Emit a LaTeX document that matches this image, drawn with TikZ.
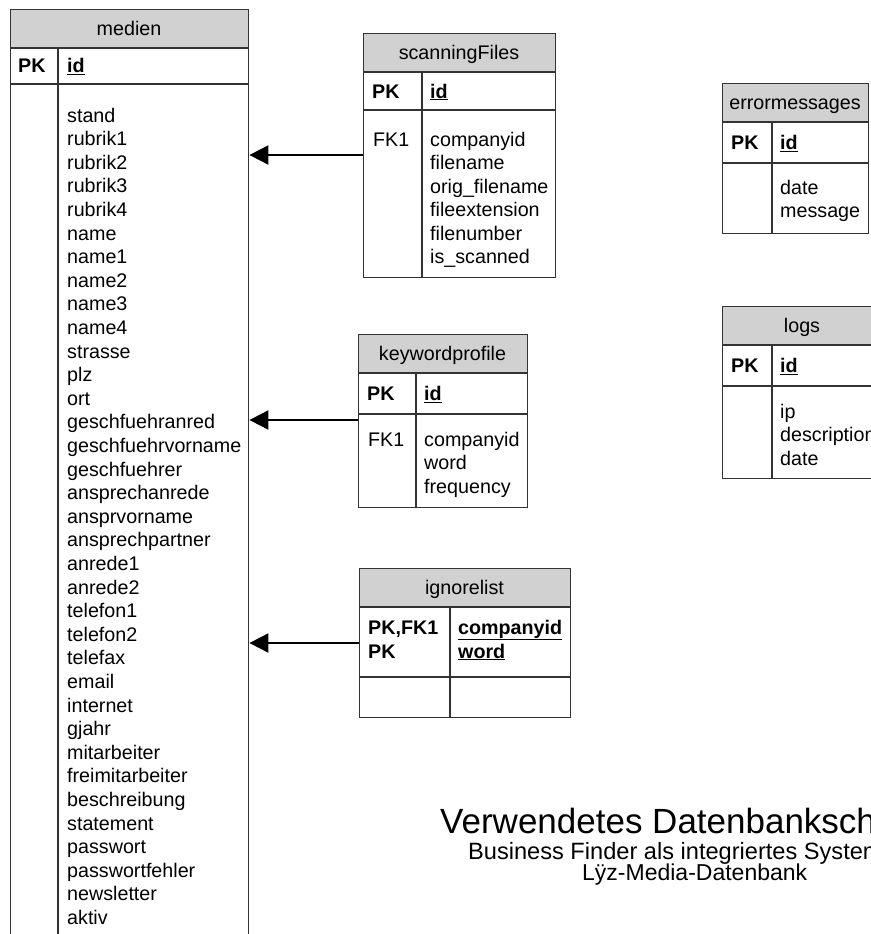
\documentclass[tikz,border=0pt]{standalone}
\usepackage{fontspec}
\setmainfont{Liberation Sans}
\usetikzlibrary{arrows.meta}
\newcommand{\keyname}[1]{\underline{#1}}
\begin{document}
\begin{tikzpicture}[x=1pt,y=-1pt,
  frame/.style={draw=black!80, line width=1.4pt},
  headfill/.style={fill=black!18},
  box/.style={frame, inner sep=0pt, anchor=north west},
  cell/.style={font=\fontsize{19.7}{23.5}\selectfont, anchor=base west, inner sep=0pt},
  headtext/.style={cell, anchor=base},
  keytext/.style={cell, font=\fontsize{19.7}{23.5}\selectfont\bfseries},
  fk/.style={draw=black, line width=2pt, -{Triangle[length=19pt,width=19pt]}},
]
\useasboundingbox (0,0) rectangle (870,934);

% ---------- medien ----------
\fill[headfill] (10,9) rectangle (248,48);
\node[box, minimum width=238pt, minimum height=1000pt] (medien) at (10,9) {};
\draw[frame] (10,48) -- (248,48) (10,84) -- (248,84) (58,48) -- (58,1009);
\node[headtext] (medienT) at (129,35.5) {medien};
\node[keytext] (medienPK) at (18,73) {PK};
\node[keytext] (medienId) at (67,73) {\keyname{id}};
\foreach \t [count=\i] in {stand,rubrik1,rubrik2,rubrik3,rubrik4,name,name1,name2,name3,name4,strasse,plz,ort,geschfuehranred,geschfuehrvorname,geschfuehrer,ansprechanrede,ansprvorname,ansprechpartner,anrede1,anrede2,telefon1,telefon2,telefax,email,internet,gjahr,mitarbeiter,freimitarbeiter,beschreibung,statement,passwort,passwortfehler,newsletter,aktiv}
  \node[cell] (m\i) at (67,{122+23.6*(\i-1)}) {\t};

% ---------- scanningFiles ----------
\fill[headfill] (363,33) rectangle (555,72);
\node[box, minimum width=192pt, minimum height=244pt] (scanningFiles) at (363,33) {};
\draw[frame] (363,72) -- (555,72) (363,110) -- (555,110) (422,72) -- (422,277);
\node[headtext] (sfT) at (459,59.5) {scanningFiles};
\node[keytext] (sfPK) at (372,98) {PK};
\node[keytext] (sfId) at (430,98) {\keyname{id}};
\node[cell] (sfFK) at (373,146) {FK1};
\foreach \t [count=\i] in {companyid,filename,orig\_filename,fileextension,filenumber,is\_scanned}
  \node[cell] (sf\i) at (430,{146+23.5*(\i-1)}) {\t};

% ---------- keywordprofile ----------
\fill[headfill] (358,334) rectangle (527,373);
\node[box, minimum width=169pt, minimum height=173pt] (keywordprofile) at (358,334) {};
\draw[frame] (358,373) -- (527,373) (358,414) -- (527,414) (416,373) -- (416,507);
\node[headtext] (kpT) at (442.5,360.5) {keywordprofile};
\node[keytext] (kpPK) at (367,400.5) {PK};
\node[keytext] (kpId) at (424,400.5) {\keyname{id}};
\node[cell] (kpFK) at (368,446) {FK1};
\foreach \t [count=\i] in {companyid,word,frequency}
  \node[cell] (kp\i) at (424,{446+23.5*(\i-1)}) {\t};

% ---------- ignorelist ----------
\fill[headfill] (359,568) rectangle (570,607);
\node[box, minimum width=211pt, minimum height=149pt] (ignorelist) at (359,568) {};
\draw[frame] (359,607) -- (570,607) (359,677) -- (570,677) (450,607) -- (450,717);
\node[headtext] (ilT) at (464.5,594.5) {ignorelist};
\node[keytext] (ilPK1) at (368,634) {PK,FK1};
\node[keytext] (ilPK2) at (368,658) {PK};
\node[keytext] (ilK1) at (458,634) {\keyname{companyid}};
\node[keytext] (ilK2) at (458,658) {\keyname{word}};

% ---------- errormessages ----------
\fill[headfill] (722,83) rectangle (868,122);
\node[box, minimum width=146pt, minimum height=150pt] (errormessages) at (722,83) {};
\draw[frame] (722,122) -- (868,122) (722,163) -- (868,163) (772,122) -- (772,233);
\node[headtext] (emT) at (795,109.5) {errormessages};
\node[keytext] (emPK) at (731,149.5) {PK};
\node[keytext] (emId) at (780,149.5) {\keyname{id}};
\node[cell] (em1) at (780,194) {date};
\node[cell] (em2) at (780,217.5) {message};

% ---------- logs (runs past the right edge) ----------
\fill[headfill] (722,306) rectangle (882,345);
\node[box, minimum width=160pt, minimum height=172pt] (logs) at (722,306) {};
\draw[frame] (722,345) -- (882,345) (722,386) -- (882,386) (772,345) -- (772,478);
\node[headtext] (lgT) at (802,332.5) {logs};
\node[keytext] (lgPK) at (731,372.5) {PK};
\node[keytext] (lgId) at (780,372.5) {\keyname{id}};
\foreach \t [count=\i] in {ip,description,date}
  \node[cell] (lg\i) at (780,{418+23.5*(\i-1)}) {\t};

% ---------- foreign keys ----------
\coordinate (r1) at (0,155);
\coordinate (r2) at (0,420);
\coordinate (r3) at (0,643);
\draw[fk] (scanningFiles.west |- r1) -- (medien.east |- r1);
\draw[fk] (keywordprofile.west |- r2) -- (medien.east |- r2);
\draw[fk] (ignorelist.west |- r3) -- (medien.east |- r3);

% ---------- title ----------
\node[cell, font=\fontsize{35}{40}\selectfont] (title1) at (440,833) {Verwendetes Datenbankschema};
\node[cell, font=\fontsize{23.6}{26}\selectfont] (title2) at (468,859) {Business Finder als integriertes System};
\node[cell, font=\fontsize{23}{26}\selectfont] (title3) at (582,880) {Lÿz-Media-Datenbank};
\end{tikzpicture}
\end{document}
